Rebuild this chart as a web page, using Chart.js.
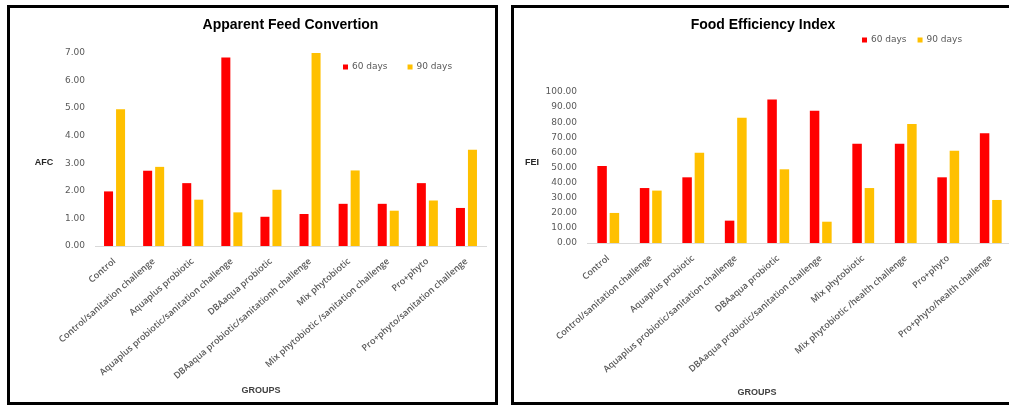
<!DOCTYPE html>
<html>
<head>
<meta charset="utf-8">
<script src="https://cdn.jsdelivr.net/npm/chart.js@4.4.1/dist/chart.umd.min.js"></script>
<style>
  html, body { margin: 0; padding: 0; background: #fff; overflow: hidden; }
  body { width: 1009px; height: 408px; position: relative; }
  .box { position: absolute; border: 3px solid #000; background: #fff; }
  #boxAfc { left: 7px; top: 5px; width: 485px; height: 394px; }
  #boxFei { left: 511px; top: 5px; width: 512px; height: 394px; }
  canvas { display: block; }
</style>
</head>
<body>
<div class="box" id="boxAfc"><canvas id="afcChart" width="485" height="394"></canvas></div>
<div class="box" id="boxFei"><canvas id="feiChart" width="512" height="394"></canvas></div>
<script>
// Apparent Feed Convertion (left chart)
var afcGroups = ['Control', 'Control/sanitation challenge', 'Aquaplus probiotic',
  'Aquaplus probiotic/sanitation challenge', 'DBAaqua probiotic',
  'DBAaqua probiotic/sanitationh challenge', 'Mix phytobiotic',
  'Mix phytobiotic /sanitation challenge', 'Pro+phyto', 'Pro+phyto/sanitation challenge'];
var afc60 = [1.98, 2.73, 2.28, 6.84, 1.06, 1.16, 1.53, 1.53, 2.28, 1.38];
var afc90 = [4.96, 2.87, 1.68, 1.22, 2.04, 7.00, 2.74, 1.28, 1.65, 3.49];

// Food Efficiency Index (right chart)
var feiGroups = ['Control', 'Control/sanitation challenge', 'Aquaplus probiotic',
  'Aquaplus probiotic/sanitation challenge', 'DBAaqua probiotic',
  'DBAaqua probiotic/sanitation challenge', 'Mix phytobiotic',
  'Mix phytobiotic /health challenge', 'Pro+phyto', 'Pro+phyto/health challenge'];
var fei60 = [51.0, 36.4, 43.5, 14.8, 95.1, 87.6, 65.8, 65.8, 43.5, 72.6];
var fei90 = [19.9, 34.7, 59.8, 83.0, 48.8, 14.1, 36.4, 78.8, 61.1, 28.5];

var seriesNames = ['60 days', '90 days'];
var seriesColors = ['#ff0000', '#ffc000'];

// small legend at a fixed spot + axis titles placed like the Excel original
var extras = {
  id: 'extras',
  afterDraw: function (chart, args, opts) {
    var ctx = chart.ctx;
    ctx.save();
    ctx.textBaseline = 'middle';

    ctx.font = '9px "DejaVu Sans", Verdana, sans-serif';
    var x = opts.legendX;
    chart.data.datasets.forEach(function (ds) {
      ctx.fillStyle = ds.backgroundColor;
      ctx.fillRect(x, opts.legendY - 2.5, 5, 5);
      ctx.fillStyle = '#595959';
      ctx.textAlign = 'left';
      ctx.fillText(ds.label, x + 9, opts.legendY);
      x += 9 + ctx.measureText(ds.label).width + opts.legendGap;
    });

    ctx.font = 'bold 9px "Liberation Sans", Arial, sans-serif';
    ctx.fillStyle = '#262626';
    ctx.textAlign = 'center';
    ctx.fillText(opts.yTitle, opts.yTitleX, opts.yTitleY);
    ctx.fillStyle = '#404040';
    ctx.fillText('GROUPS', opts.xTitleX, opts.xTitleY);
    ctx.restore();
  }
};

function makeChart(id, groups, s60, s90, cfg) {
  return new Chart(document.getElementById(id), {
    type: 'bar',
    data: {
      labels: groups,
      datasets: [
        { label: seriesNames[0], data: s60, backgroundColor: seriesColors[0] },
        { label: seriesNames[1], data: s90, backgroundColor: seriesColors[1] }
      ]
    },
    options: {
      responsive: false,
      animation: false,
      categoryPercentage: cfg.catPct,
      barPercentage: cfg.barPct,
      layout: { padding: { left: 0, right: cfg.padRight, top: 0, bottom: 0 } },
      plugins: {
        title: {
          display: true,
          text: cfg.title,
          fullSize: cfg.titleFull,
          color: '#000',
          font: { family: '"Liberation Sans", Arial, sans-serif', size: 14, weight: 'bold' },
          padding: { top: 9, bottom: cfg.titleGap }
        },
        legend: { display: false },
        tooltip: { enabled: false },
        extras: {
          legendX: cfg.legendX, legendY: cfg.legendY, legendGap: cfg.legendGap,
          yTitle: cfg.yTitle, yTitleX: cfg.yTitleX, yTitleY: cfg.yTitleY,
          xTitleX: cfg.xTitleX, xTitleY: cfg.xTitleY
        }
      },
      scales: {
        x: {
          grid: { display: false },
          border: { display: true, color: '#d9d9d9', width: 1 },
          ticks: {
            autoSkip: false,
            minRotation: 41,
            maxRotation: 41,
            padding: 2,
            color: '#595959',
            font: { family: '"Open Sans", Arial, sans-serif', size: 9, weight: '600' }
          },
          afterFit: function (s) { s.height = cfg.xHeight; }
        },
        y: {
          min: 0,
          max: cfg.yMax,
          grid: { display: false, drawTicks: false },
          border: { display: false },
          ticks: {
            stepSize: cfg.yStep,
            padding: 10,
            color: '#595959',
            font: { family: '"DejaVu Sans", Verdana, sans-serif', size: 9 },
            callback: function (v) { return v.toFixed(2); }
          },
          afterFit: function (s) { s.width = cfg.yWidth; }
        }
      }
    },
    plugins: [extras]
  });
}

makeChart('afcChart', afcGroups, afc60, afc90, {
  title: 'Apparent Feed Convertion', titleFull: false, yTitle: 'AFC',
  yMax: 7, yStep: 1,
  catPct: 0.615, barPct: 0.75,
  padRight: 9, yWidth: 85, xHeight: 156, titleGap: 19.2,
  legendX: 333, legendY: 59, legendGap: 20,
  yTitleX: 34, yTitleY: 155, xTitleX: 251, xTitleY: 383
});

makeChart('feiChart', feiGroups, fei60, fei90, {
  title: 'Food Efficiency Index', titleFull: true, yTitle: 'FEI',
  yMax: 100, yStep: 10,
  catPct: 0.58, barPct: 0.77,
  padRight: 14, yWidth: 73, xHeight: 159, titleGap: 58.2,
  legendX: 348, legendY: 32, legendGap: 11,
  yTitleX: 18, yTitleY: 155, xTitleX: 243, xTitleY: 385
});
</script>
</body>
</html>
